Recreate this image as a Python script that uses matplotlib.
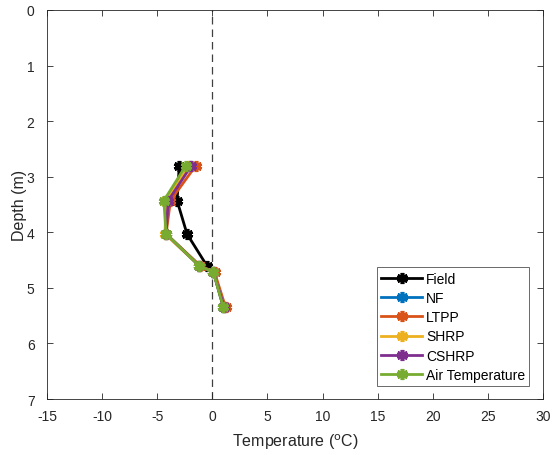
import matplotlib
matplotlib.use("Agg")
import matplotlib.pyplot as plt

plt.rcParams['font.family'] = ['Liberation Sans', 'DejaVu Sans']
plt.rcParams['axes.unicode_minus'] = False

depth = [2.8, 3.43, 4.03, 4.6, 4.72, 5.35]
field = [-3.0, -3.2, -2.3, -0.5, 0.1, 1.0]
nf = [-2.0, -4.2, -4.2, -1.2, 0.1, 1.1]
ltpp = [-1.5, -3.8, -4.2, -1.1, 0.2, 1.2]
shrp = [-2.1, -4.2, -4.3, -1.2, 0.1, 1.1]
cshrp = [-1.9, -4.0, -4.2, -1.2, 0.1, 1.1]
air = [-2.4, -4.4, -4.2, -1.2, 0.1, 1.0]

series = [
    ("Field", field, "#000000"),
    ("NF", nf, "#0072BD"),
    ("LTPP", ltpp, "#D95319"),
    ("SHRP", shrp, "#EDB120"),
    ("CSHRP", cshrp, "#7E2F8E"),
    ("Air Temperature", air, "#77AC30"),
]

xticks = [-15, -10, -5, 0, 5, 10, 15, 20, 25, 30]
yticks = [0, 1, 2, 3, 4, 5, 6, 7]

fig = plt.figure(figsize=(5.53, 4.56), dpi=100)
ax = fig.add_axes([0.085, 0.1228, 0.897, 0.8531])

ax.axvline(0, color="#404040", lw=0.9, ls=(0, (6, 4)), zorder=1)

for name, vals, col in series:
    ax.plot(vals, depth, color=col, lw=2, marker=(6, 2, 0), ms=8,
            mew=2.6, mec=col, label=name, zorder=3)

ax.set_xlim(-15, 30)
ax.set_ylim(7, 0)
ax.set_xticks(xticks)
ax.set_yticks(yticks)
ax.tick_params(direction="in", top=True, right=True, labelsize=10,
               colors="#262626", length=4, width=0.6)
ax.tick_params(axis="x", pad=7)
ax.tick_params(axis="y", pad=9)
for s in ax.spines.values():
    s.set_linewidth(0.6)
    s.set_color("#262626")
ax.set_xlabel("Temperature ($^{\\rm o}$C)", fontsize=11.5, color="#262626",
              labelpad=6)
ax.set_ylabel("Depth (m)", fontsize=11.5, color="#262626", labelpad=0)

leg = ax.legend(loc="lower right", fontsize=10, frameon=True, fancybox=False,
                edgecolor="#262626", handlelength=2.9, borderpad=0.3,
                labelspacing=0.38, handletextpad=0.3, borderaxespad=0,
                bbox_to_anchor=(0.972, 0.033))
leg.get_frame().set_linewidth(0.6)

fig.savefig("out.png", dpi=100)
